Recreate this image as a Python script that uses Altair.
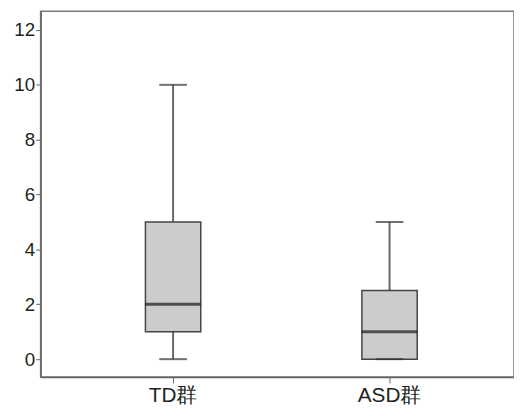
import altair as alt
import pandas as pd

groups = ["TD群", "ASD群"]
mins = [0, 0]
q1s = [1, 0]
medians = [2, 1]
q3s = [5, 2.5]
maxs = [10, 5]

df = pd.DataFrame({"group": groups, "min": mins, "q1": q1s, "median": medians, "q3": q3s, "max": maxs})

xenc = alt.X("group:N", sort=groups, title=None,
             scale=alt.Scale(type="band", domain=groups, paddingInner=0.5,
                             paddingOuter=0.3435, align=0.527),
             axis=alt.Axis(labelAngle=0, labelFontSize=21, labelColor="#231f20",
                           labelFont="Liberation Sans", tickSize=6, tickColor="#666",
                           domainColor="#666", domainWidth=1.5, labelPadding=2, grid=False))
yscale = alt.Scale(domain=[-0.65, 12.68], nice=False, zero=False)
yaxis = alt.Axis(values=[0, 2, 4, 6, 8, 10, 12], labelFontSize=19, labelColor="#231f20",
                 labelFont="Liberation Sans", tickSize=5, tickColor="#666",
                 domainColor="#666", domainWidth=1.5, labelPadding=1, grid=False,
                 title=None, format="d")

base = alt.Chart(df)

whisker = base.mark_rule(color="#666", strokeWidth=2).encode(
    x=xenc, y=alt.Y("min:Q", scale=yscale, axis=yaxis), y2="max:Q")
box = base.mark_bar(size=56, fill="#cccccc", stroke="#444", strokeWidth=1.5).encode(
    x=xenc, y=alt.Y("q1:Q", scale=yscale), y2="q3:Q")
med = base.mark_tick(size=56, thickness=3, color="#1a1a1a").encode(
    x=xenc, y=alt.Y("median:Q", scale=yscale))
capmax = base.mark_tick(size=28, thickness=2, color="#333").encode(
    x=xenc, y=alt.Y("max:Q", scale=yscale))
capmin = base.mark_tick(size=28, thickness=2, color="#333").encode(
    x=xenc, y=alt.Y("min:Q", scale=yscale))

chart = alt.layer(whisker, box, med, capmin, capmax).properties(
    width=479, height=370, background="white",
    padding={"top": 1, "left": 5, "right": 0, "bottom": 0}
).configure_view(stroke="#777", strokeWidth=1.5)

chart.save("out.html", embed_options={"renderer": "svg", "actions": False})
